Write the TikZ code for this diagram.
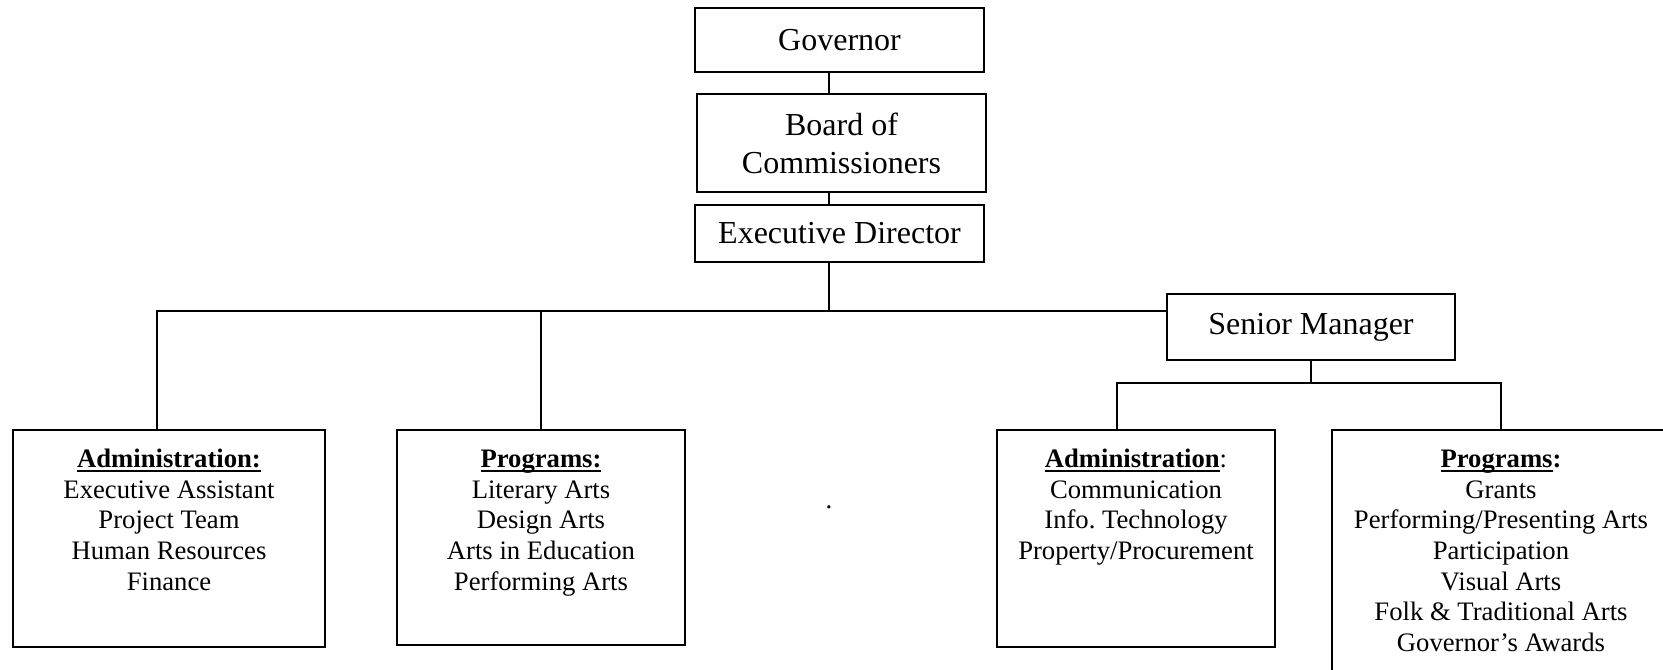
\documentclass[tikz,border=0pt]{standalone}
\usepackage{fontspec}
\setmainfont{Liberation Serif}
\usetikzlibrary{calc}
\tikzstyle{office}=[draw, line width=0.8pt, align=center, inner sep=0pt, font=\fontsize{12}{14.3}\selectfont]
\tikzstyle{dept}=[draw, line width=0.8pt, inner sep=0pt, font=\fontsize{10}{11.5}\selectfont]
\tikzstyle{wire}=[line width=0.8pt]
\newcommand{\office}{\node[office]}
\newcommand{\dept}{\node[dept]}
\newcommand{\px}{0.375pt}
% bold heading with a rule that runs through the descenders
\newcommand{\heading}[1]{\setbox0\hbox{\bfseries #1}\rlap{\rule[-1.6pt]{\wd0}{0.7pt}}\box0}
\newcommand{\deptlist}[3]{\parbox[c][#2][t]{#1}{\centering\rule{0pt}{14pt}#3}}

\begin{document}
\begin{tikzpicture}[x=0.375pt, y=-0.375pt]
\useasboundingbox (0,0) rectangle (1663,669);
\office[minimum width=289*\px, minimum height=64*\px] (gov) at (839.5,40) {Governor};
\office[minimum width=289*\px, minimum height=98*\px] (board) at (841.5,143) {Board of\\Commissioners};
\office[minimum width=289*\px, minimum height=57*\px] (exec) at (839.5,233.5) {Executive Director};
\office[minimum width=288*\px, minimum height=66*\px] (senior) at (1311,327) {Senior Manager};
\dept (admin) at (169,538.5) {\deptlist{117pt}{81.375pt}{\heading{Administration:}\\Executive Assistant\\Project Team\\Human Resources\\Finance}};
\dept (prog) at (541,537.5) {\deptlist{108pt}{80.625pt}{\heading{Programs:}\\Literary Arts\\Design Arts\\Arts in Education\\Performing Arts}};
\dept (sadmin) at (1136,538.5) {\deptlist{104.25pt}{81.375pt}{\heading{Administration}:\\Communication\\Info.\ Technology\\Property/Procurement}};
\dept (sprog) at (1501,565) {\deptlist{126.75pt}{101.25pt}{\heading{Programs}\textbf{:}\\Grants\\Performing/Presenting Arts\\Participation\\Visual Arts\\Folk \& Traditional Arts\\Governor’s Awards}};
\node[font=\fontsize{10}{12}\selectfont] (dot) at (829,507) {.};

\coordinate (spine) at (829,311);
\draw[wire] (gov.south -| spine) -- (board.north -| spine);
\draw[wire] (board.south -| spine) -- (exec.north -| spine);
\draw[wire] (exec.south -| spine) -- (spine);
\draw[wire] ($(admin.north)+(-12,0)$) |- (spine -| senior.west);
\draw[wire] (prog.north) -- (prog.north |- spine);
\draw[wire] (senior.south) -- ++(0,22) coordinate (fork);
\draw[wire] ($(sadmin.north)+(-19,0)$) |- (fork) -| (sprog.north);
\end{tikzpicture}
\end{document}
